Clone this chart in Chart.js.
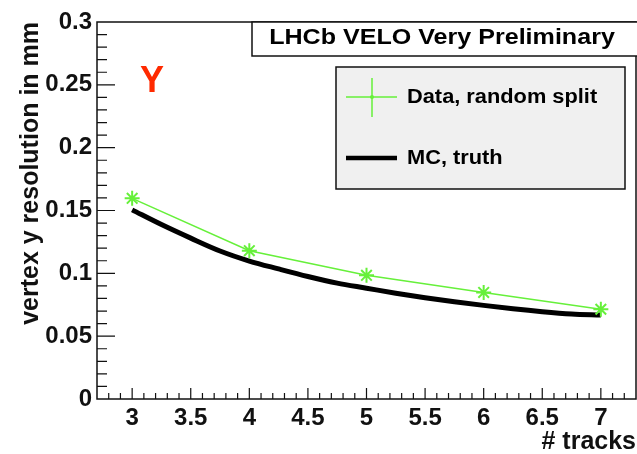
<!DOCTYPE html>
<html>
<head>
<meta charset="utf-8">
<script src="https://cdn.jsdelivr.net/npm/chart.js@4/dist/chart.umd.min.js"></script>
<style>
  html, body { margin: 0; padding: 0; background: #fff; }
  #wrap { width: 637px; height: 454px; }
</style>
</head>
<body>
<div id="wrap"><canvas id="myChart" width="637" height="454"></canvas></div>
<script>
const xTicks = [3, 3.5, 4, 4.5, 5, 5.5, 6, 6.5, 7];
const yTicks = [0, 0.05, 0.1, 0.15, 0.2, 0.25, 0.3];

// Data, random split (one point per track count)
const nTracks = [3, 4, 5, 6, 7];
const dataSplit = [0.1597, 0.118, 0.0984, 0.0848, 0.0714];

// MC truth curve
const mcTracks = [3, 3.25, 3.5, 3.75, 4, 4.25, 4.5, 4.75, 5, 5.25, 5.5, 5.75, 6, 6.25, 6.5, 6.75, 7];
const mcTruth = [0.1505, 0.1388, 0.128, 0.1178, 0.1098, 0.1035, 0.0975, 0.0922, 0.0882, 0.0842, 0.0806, 0.0774, 0.0745, 0.0718, 0.0695, 0.0677, 0.0668];

const green = '#66f03a';
const font = '"Liberation Sans", Arial, sans-serif';

// text a bit wider than the font, like the original ROOT output
function wideText(ctx, text, x, y, sx) {
  ctx.save();
  ctx.translate(x, y);
  ctx.scale(sx, 1);
  ctx.fillText(text, 0, 0);
  ctx.restore();
}

const rootFrame = {
  id: 'rootFrame',
  afterDraw(chart) {
    const ctx = chart.ctx;
    const a = chart.chartArea;
    const xs = chart.scales.x, ys = chart.scales.y;
    ctx.save();
    ctx.strokeStyle = '#111';
    ctx.lineWidth = 1.5;
    ctx.strokeRect(a.left, a.top, a.right - a.left, a.bottom - a.top);

    // inward ticks, x axis
    ctx.lineWidth = 1.2;
    ctx.beginPath();
    for (let i = 28; i <= 72; i++) {
      const px = xs.getPixelForValue(i / 10);
      const len = (i % 5 === 0) ? 11 : 6;
      ctx.moveTo(px, a.bottom);
      ctx.lineTo(px, a.bottom - len);
    }
    // inward ticks, y axis
    for (let j = 1; j < 30; j++) {
      const py = ys.getPixelForValue(j / 100);
      const len = (j % 5 === 0) ? 18 : 10;
      ctx.moveTo(a.left, py);
      ctx.lineTo(a.left + len, py);
    }
    ctx.stroke();

    // title box
    ctx.fillStyle = '#fff';
    ctx.fillRect(252, 22, 386, 34);
    ctx.strokeStyle = '#111';
    ctx.lineWidth = 1.5;
    ctx.strokeRect(252, 22, 386, 34);
    ctx.fillStyle = '#000';
    ctx.font = 'bold 22px ' + font;
    ctx.textAlign = 'center';
    ctx.textBaseline = 'middle';
    wideText(ctx, 'LHCb VELO Very Preliminary', 442, 38, 1.14);

    // legend
    ctx.fillStyle = '#f0f0f0';
    ctx.fillRect(336, 67, 289, 122);
    ctx.strokeRect(336, 67, 289, 122);
    const ds = chart.data.datasets;
    // entry 1
    ctx.strokeStyle = ds[0].borderColor;
    ctx.lineWidth = 1.5;
    ctx.beginPath();
    ctx.moveTo(346, 97); ctx.lineTo(397, 97);
    ctx.moveTo(372, 78); ctx.lineTo(372, 117);
    ctx.stroke();
    ctx.fillStyle = ds[0].borderColor;
    ctx.beginPath();
    ctx.arc(372, 97, 2, 0, Math.PI * 2);
    ctx.fill();
    // entry 2
    ctx.strokeStyle = ds[1].borderColor;
    ctx.lineWidth = 4.5;
    ctx.beginPath();
    ctx.moveTo(346, 158); ctx.lineTo(397, 158);
    ctx.stroke();
    ctx.fillStyle = '#000';
    ctx.font = 'bold 20px ' + font;
    ctx.textAlign = 'left';
    wideText(ctx, ds[0].label, 407, 97, 1.09);
    wideText(ctx, ds[1].label, 407, 158, 1.09);

    // coordinate label
    ctx.fillStyle = '#ff2a00';
    ctx.font = 'bold 36px ' + font;
    ctx.textAlign = 'center';
    ctx.fillText('Y', 152, 82);
    ctx.restore();
  }
};

new Chart(document.getElementById('myChart'), {
  type: 'line',
  data: {
    datasets: [
      {
        label: 'Data, random split',
        data: nTracks.map((x, i) => ({ x: x, y: dataSplit[i] })),
        borderColor: green,
        backgroundColor: green,
        borderWidth: 1.5,
        pointStyle: 'star',
        pointRadius: 7.5,
        pointBorderWidth: 2,
        pointBorderColor: green,
        tension: 0,
        fill: false
      },
      {
        label: 'MC, truth',
        data: mcTracks.map((x, i) => ({ x: x, y: mcTruth[i] })),
        borderColor: '#000',
        borderWidth: 5,
        pointRadius: 0,
        cubicInterpolationMode: 'monotone',
        fill: false
      }
    ]
  },
  options: {
    responsive: false,
    animation: false,
    layout: { autoPadding: false, padding: { top: 22, right: 1, left: 0, bottom: 0 } },
    plugins: { legend: { display: false }, tooltip: { enabled: false } },
    scales: {
      x: {
        type: 'linear',
        min: 2.7,
        max: 7.3,
        afterBuildTicks: s => { s.ticks = xTicks.map(v => ({ value: v })); },
        afterFit: s => { s.height = 55; s.paddingLeft = 0; s.paddingRight = 0; },
        grid: { display: false, drawTicks: false },
        border: { display: false },
        ticks: {
          color: '#111',
          padding: 5,
          maxRotation: 0,
          autoSkip: false,
          font: { family: font, size: 24, weight: 'bold' },
          callback: v => String(v)
        },
        title: {
          display: true,
          text: '# tracks',
          align: 'end',
          color: '#111',
          padding: { top: 0, bottom: -3 },
          font: { family: font, size: 25, weight: 'bold' }
        }
      },
      y: {
        min: 0,
        max: 0.3,
        afterBuildTicks: s => { s.ticks = yTicks.map(v => ({ value: v })); },
        afterFit: s => { s.width = 97; s.paddingTop = 0; s.paddingBottom = 0; },
        grid: { display: false, drawTicks: false },
        border: { display: false },
        ticks: {
          color: '#111',
          padding: 5,
          autoSkip: false,
          font: { family: font, size: 24, weight: 'bold' },
          callback: v => String(+v.toFixed(2))
        },
        title: {
          display: true,
          text: 'vertex y resolution in mm',
          align: 'end',
          color: '#111',
          padding: { top: 16, bottom: 0 },
          font: { family: font, size: 25, weight: 'bold' }
        }
      }
    }
  },
  plugins: [rootFrame]
});
</script>
</body>
</html>
